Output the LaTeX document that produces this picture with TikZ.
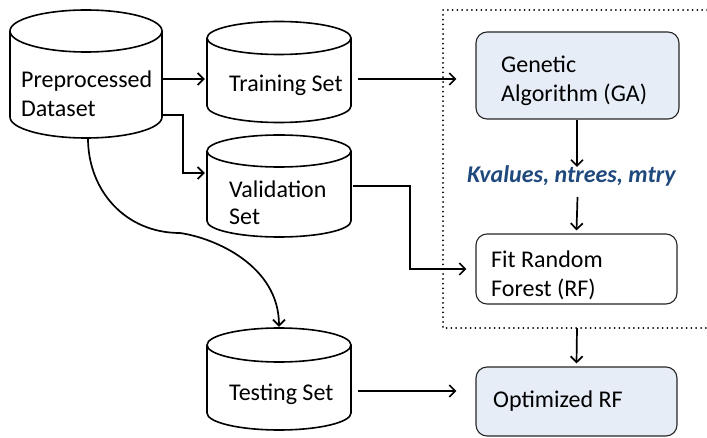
\documentclass[tikz,border=0pt]{standalone}
\usepackage{fontspec}
\setmainfont{Carlito}
\usetikzlibrary{arrows.meta,calc}
\definecolor{boxblue}{RGB}{230,237,247}
\definecolor{labblue}{RGB}{31,73,125}
\newcommand{\drawcyl}[5]{% x1, x2, Ytop, Ybot, ry
  \pgfmathsetmacro{\rx}{(#2-#1)/2}
  \draw[cylline] (#1,#3) -- (#1,#4) arc[start angle=180,end angle=360,x radius=\rx pt,y radius=#5pt]
    -- (#2,#3) arc[start angle=0,end angle=180,x radius=\rx pt,y radius=#5pt] -- cycle;
  \draw[cylline] (#1,#3) arc[start angle=180,end angle=360,x radius=\rx pt,y radius=#5pt];
}
\tikzset{
  cylline/.style={line width=1.6pt, line join=round},
  cylbox/.style={draw=none, inner sep=0pt},
  txt/.style={inner sep=0pt, font=\fontsize{24}{29}\selectfont, align=left},
  procbox/.style={draw=black!85, line width=1.1pt, rounded corners=11pt, inner sep=0pt},
  arr/.style={line width=1.7pt, -{Straight Barb[length=6pt,width=12pt,line width=1.7pt]}},
  frame/.style={line width=2pt, dash pattern=on 0pt off 4.8pt, line cap=round},
}
\begin{document}
\begin{tikzpicture}[x=1pt,y=1pt]
\useasboundingbox (0,0) rectangle (707,437);
% cylinders
\drawcyl{10}{162}{406}{320}{21}
\drawcyl{207}{351}{399}{331}{16.5}
\drawcyl{207}{351}{286}{216}{16}
\drawcyl{207}{351}{92}{24}{17}
\node[cylbox, minimum width=152pt, minimum height=86pt] (pre) at (86,363) {};
\node[cylbox, minimum width=144pt, minimum height=68pt] (train) at (279,365) {};
\node[cylbox, minimum width=144pt, minimum height=70pt] (val) at (279,251) {};
\node[cylbox, minimum width=144pt, minimum height=68pt] (test) at (279,58) {};
\node[txt, anchor=base west] (pret) at (21,349) {Preprocessed};
\node[txt, anchor=base west] (pret2) at (21,320) {Dataset};
\node[txt, anchor=base west] (traint) at (229,345) {Training Set};
\node[txt, anchor=base west] (valt) at (229,239) {Validation};
\node[txt, anchor=base west] (valt2) at (229,212) {Set};
\node[txt, anchor=base west] (testt) at (229,37) {Testing Set};
% process boxes
\node[procbox, fill=boxblue, minimum width=203pt, minimum height=87pt] (ga) at (577.5,361.5) {};
\node[procbox, fill=white, minimum width=201pt, minimum height=70pt] (fit) at (576.5,168) {};
\node[procbox, fill=boxblue, minimum width=201pt, minimum height=69pt] (opt) at (576.5,35.5) {};
\node[txt, anchor=base west] (gat) at (501,364) {Genetic};
\node[txt, anchor=base west] (gat2) at (501,335) {Algorithm (GA)};
\node[txt, anchor=base west] (fitt) at (491,170) {Fit Random};
\node[txt, anchor=base west] (fitt2) at (491,141) {Forest (RF)};
\node[txt, anchor=base west] (optt) at (493,30) {Optimized RF};
\node[txt, anchor=base, text=labblue, font=\fontsize{24}{29}\selectfont\bfseries\itshape] (lab) at (571.5,254) {Kvalues, ntrees, mtry};
% dotted frame
\coordinate (ftr) at (707,427);
\coordinate (ftl) at (443,427);
\coordinate (fbl) at (443,109);
\coordinate (fbr) at (707,109);
\coordinate (fb) at (577,109);
\draw[frame] (ftr) -- (ftl) -- (fbl) -- (fbr);
% connectors
\draw[arr] ([yshift=-5pt]pre.east) -- ([yshift=-5pt,xshift=-2pt]pre.east -| train.west);
\draw[arr] ([yshift=-41pt]pre.east) -- ++(21pt,0) |- ([yshift=13pt,xshift=-2pt]val.west);
\draw[arr] ([xshift=2pt,yshift=-21pt]pre.south) .. controls +(0,-52) and (125,204) .. (180,204)
   .. controls (215,199) and ([yshift=79pt]test.north) .. ([yshift=18pt]test.north);
\draw[arr] ([xshift=7pt,yshift=-7pt]train.east) -- ([yshift=-3.5pt,xshift=-19pt]ga.west);
\draw[arr] ([xshift=2pt]val.east) -- ++(57pt,0) |- ([xshift=-9pt]fit.west);
\draw[arr] ([xshift=7pt,yshift=-12pt]test.east) -- ([yshift=10.5pt,xshift=-19pt]opt.west);
\draw[arr] ([xshift=-0.5pt]ga.south) -- ([xshift=-0.5pt,yshift=-1pt]ga.south |- lab.north);
\draw[arr] (ga.south |- 0,240) -- ([yshift=3pt]fit.north);
\draw[arr] (fb) -- ([yshift=3pt]opt.north);
\end{tikzpicture}
\end{document}
